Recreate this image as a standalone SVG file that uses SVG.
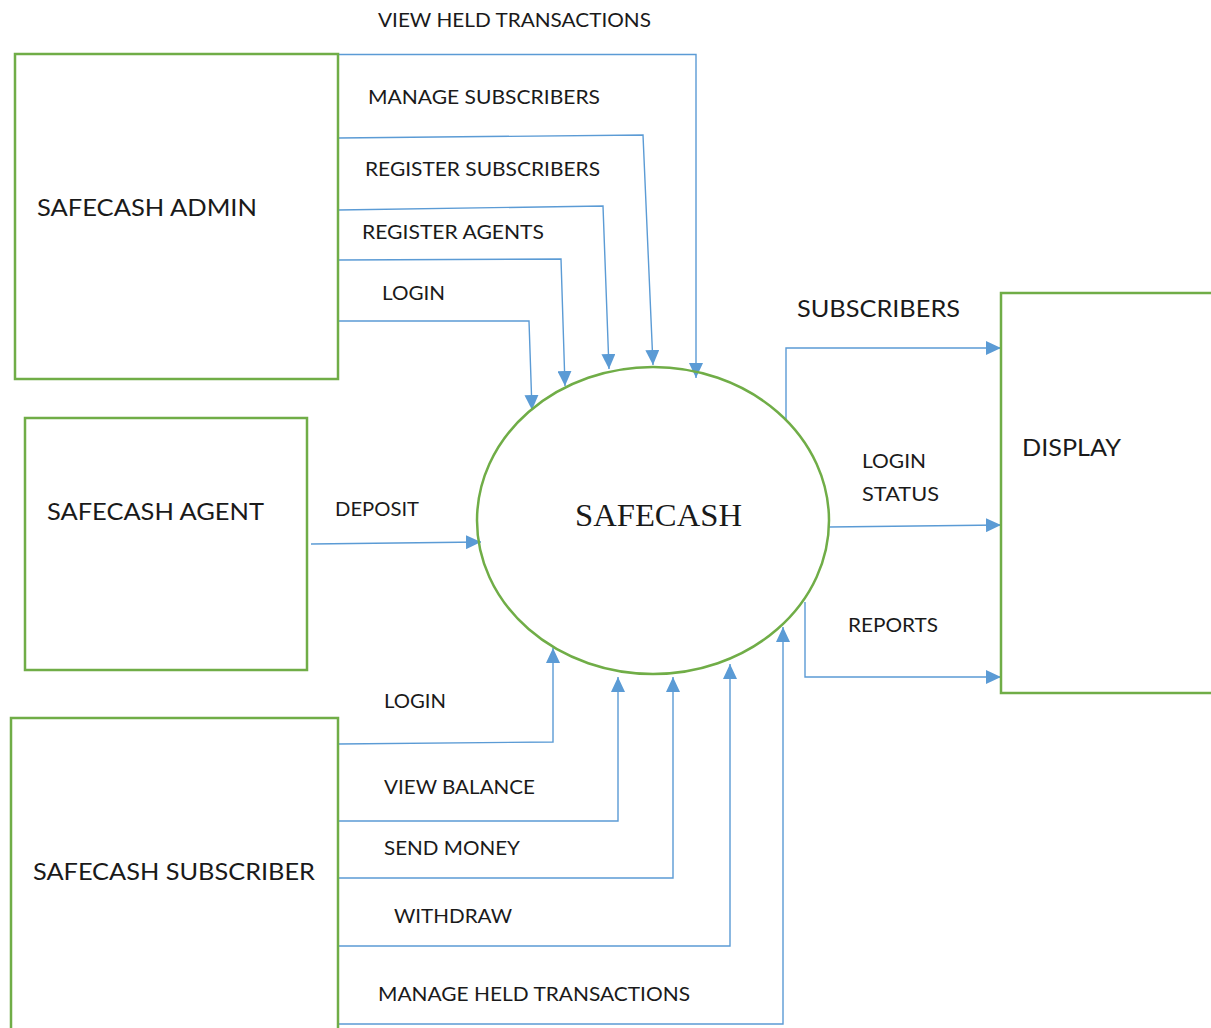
<svg xmlns="http://www.w3.org/2000/svg" width="1211" height="1028" viewBox="0 0 1211 1028">
<style>
.box{fill:#fff;stroke:#70AD47;stroke-width:2.5}
.c{fill:none;stroke:#5B9BD5;stroke-width:1.4;marker-end:url(#ah)}
.l{font-family:Lato,"Open Sans","Liberation Sans",sans-serif;font-size:19px;fill:#1a1a1a}
.L{font-family:Lato,"Open Sans","Liberation Sans",sans-serif;font-size:24px;fill:#1a1a1a}
.S{font-family:"Liberation Serif",serif;font-size:32px;fill:#1a1a1a}
</style>
<defs>
<marker id="ah" markerWidth="15" markerHeight="14" refX="15" refY="7" orient="auto" markerUnits="userSpaceOnUse">
<path d="M0,0 L15,7 L0,14 z" fill="#5B9BD5"/>
</marker>
</defs>
<rect width="1211" height="1028" fill="#fff"/>
<g id="connectors">
<polyline class="c" points="338,54.5 696,54.5 696,378"/>
<polyline class="c" points="338,138 643,135 653,365"/>
<polyline class="c" points="338,210 603,206 609,369"/>
<polyline class="c" points="338,260 561,259 565,386"/>
<polyline class="c" points="338,321 529,321 532,410"/>
<polyline class="c" points="311,544 481,542"/>
<polyline class="c" points="786,420 786,348 1001,348"/>
<polyline class="c" points="829,527 1001,525"/>
<polyline class="c" points="805,602 805,677 1001,677"/>
<polyline class="c" points="338,744 553,742 553,648"/>
<polyline class="c" points="338,821 618,821 618,677"/>
<polyline class="c" points="338,878 673,878 673,677"/>
<polyline class="c" points="338,946 730,946 730,664"/>
<polyline class="c" points="338,1024 783,1024 783,627"/>
</g>
<g id="labels">
<text class="l" x="378" y="27" textLength="273" lengthAdjust="spacingAndGlyphs">VIEW HELD TRANSACTIONS</text>
<text class="l" x="368" y="104" textLength="232" lengthAdjust="spacingAndGlyphs">MANAGE SUBSCRIBERS</text>
<text class="l" x="365" y="176" textLength="235" lengthAdjust="spacingAndGlyphs">REGISTER SUBSCRIBERS</text>
<text class="l" x="362" y="239" textLength="182" lengthAdjust="spacingAndGlyphs">REGISTER AGENTS</text>
<text class="l" x="382" y="300" textLength="63" lengthAdjust="spacingAndGlyphs">LOGIN</text>
<text class="l" x="335" y="516" textLength="84" lengthAdjust="spacingAndGlyphs">DEPOSIT</text>
<text class="L" x="797" y="317" textLength="163" lengthAdjust="spacingAndGlyphs">SUBSCRIBERS</text>
<text class="l" x="862" y="468" textLength="64" lengthAdjust="spacingAndGlyphs">LOGIN</text>
<text class="l" x="862" y="501" textLength="77" lengthAdjust="spacingAndGlyphs">STATUS</text>
<text class="l" x="848" y="632" textLength="90" lengthAdjust="spacingAndGlyphs">REPORTS</text>
<text class="l" x="384" y="708" textLength="62" lengthAdjust="spacingAndGlyphs">LOGIN</text>
<text class="l" x="384" y="794" textLength="151" lengthAdjust="spacingAndGlyphs">VIEW BALANCE</text>
<text class="l" x="384" y="855" textLength="136" lengthAdjust="spacingAndGlyphs">SEND MONEY</text>
<text class="l" x="394" y="923" textLength="118" lengthAdjust="spacingAndGlyphs">WITHDRAW</text>
<text class="l" x="378" y="1001" textLength="312" lengthAdjust="spacingAndGlyphs">MANAGE HELD TRANSACTIONS</text>
</g>
<g id="admin">
<rect class="box" x="15" y="54" width="323" height="325"/>
<text class="L" x="37" y="216" textLength="220" lengthAdjust="spacingAndGlyphs">SAFECASH ADMIN</text>
</g>
<g id="agent">
<rect class="box" x="25" y="418" width="282" height="252"/>
<text class="L" x="47" y="520" textLength="217" lengthAdjust="spacingAndGlyphs">SAFECASH AGENT</text>
</g>
<g id="subscriber">
<rect class="box" x="11" y="718" width="327" height="320"/>
<text class="L" x="33" y="880" textLength="282" lengthAdjust="spacingAndGlyphs">SAFECASH SUBSCRIBER</text>
</g>
<g id="display">
<rect class="box" x="1001" y="293" width="220" height="400"/>
<text class="L" x="1022" y="456" textLength="99" lengthAdjust="spacingAndGlyphs">DISPLAY</text>
</g>
<g id="safecash">
<ellipse cx="653" cy="520.5" rx="176" ry="153.5" fill="none" stroke="#70AD47" stroke-width="2.5"/>
<text class="S" x="575" y="526" textLength="167" lengthAdjust="spacingAndGlyphs">SAFECASH</text>
</g>
</svg>
